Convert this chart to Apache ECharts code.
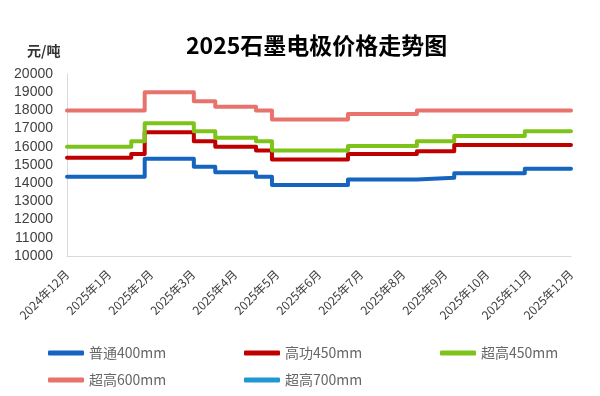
<!DOCTYPE html>
<html>
<head>
<meta charset="utf-8">
<script src="https://cdn.jsdelivr.net/npm/echarts@6/dist/echarts.min.js"></script>
<style>html,body{margin:0;padding:0;background:#fff;}#c{width:600px;height:396px;}</style>
</head>
<body>
<div id="c"></div>
<script>
// Month tick labels (x axis)
const monthLabels = ['2024年12月','2025年1月','2025年2月','2025年3月','2025年4月','2025年5月','2025年6月','2025年7月','2025年8月','2025年9月','2025年10月','2025年11月','2025年12月'];
// Price change points, in months since 2024年12月
const changeAt = [0, 1.53, 1.85, 3.02, 3.53, 4.50, 4.88, 6.69, 8.33, 9.22, 10.90, 12];
// Prices (元/吨) taking effect at each change point
const seriesNames = ['普通400mm','高功450mm','超高450mm','超高600mm','超高700mm'];
const putong400 = [14350, 14350, 15350, 14900, 14600, 14350, 13900, 14200, 14300, 14550, 14800, 14800];
const gaogong450 = [15400, 15600, 16800, 16300, 16000, 15800, 15300, 15600, 15750, 16100, 16100, 16100];
const chaogao450 = [16000, 16300, 17300, 16850, 16500, 16300, 15800, 16050, 16300, 16600, 16850, 16850];
const chaogao600 = [18000, 18000, 19000, 18500, 18200, 18000, 17500, 17800, 18000, 18000, 18000, 18000];
const chaogao700 = [];
const yTicks = [10000, 20000, 1000]; // min, max, step

const colors = ['#1565c0', '#c00000', '#7ec31a', '#e8736c', '#1f97d4'];
const allValues = [putong400, gaogong450, chaogao450, chaogao600, chaogao700];

const chart = echarts.init(document.getElementById('c'));
const series = seriesNames.map((name, i) => ({
  name: name,
  type: 'line',
  step: 'end',
  symbol: 'none',
  data: allValues[i].map((v, k) => [changeAt[k], v]),
  lineStyle: { width: 4, color: colors[i], cap: 'round', join: 'round' },
  itemStyle: { color: colors[i] },
  emphasis: { disabled: true }
}));

const legendPos = [[48, 346], [244, 346], [440, 346], [48, 373], [244, 373]];
const legends = seriesNames.map((name, i) => ({
  data: [name],
  left: legendPos[i][0],
  top: legendPos[i][1],
  padding: 0,
  icon: 'roundRect',
  itemWidth: 36,
  itemHeight: 5,
  selectedMode: false,
  textStyle: { fontSize: 14, color: '#666666', fontFamily: 'Noto Sans CJK SC' }
}));

chart.setOption({
  animation: false,
  backgroundColor: '#ffffff',
  color: colors,
  title: {
    text: '2025石墨电极价格走势图',
    left: 186,
    top: 34,
    padding: 0,
    textStyle: { fontSize: 23, fontWeight: 'bold', color: '#000', fontFamily: 'Noto Sans CJK SC' }
  },
  graphic: [{
    type: 'text',
    left: 27,
    top: 44,
    style: { text: '元/吨', fill: '#333', font: 'bold 14px "Noto Sans CJK SC"' }
  }],
  legend: legends,
  grid: { left: 67, right: 29, top: 74, bottom: 140, containLabel: false },
  xAxis: {
    type: 'value',
    min: 0,
    max: monthLabels.length - 1,
    interval: 1,
    axisLine: { show: true, lineStyle: { color: '#d9d9d9', width: 1 } },
    axisTick: { show: false },
    splitLine: { show: false },
    axisLabel: {
      rotate: 45,
      margin: 16,
      fontSize: 12,
      color: '#404040',
      fontFamily: 'Noto Sans CJK SC',
      showMinLabel: true,
      showMaxLabel: true,
      formatter: v => monthLabels[Math.round(v)] || ''
    }
  },
  yAxis: {
    type: 'value',
    min: yTicks[0],
    max: yTicks[1],
    interval: yTicks[2],
    axisLine: { show: true, lineStyle: { color: '#d9d9d9', width: 1 } },
    axisTick: { show: false },
    splitLine: { show: false },
    axisLabel: { fontSize: 14, color: '#404040', margin: 14, fontFamily: 'Liberation Sans', formatter: v => String(v) }
  },
  series: series
});
</script>
</body>
</html>
